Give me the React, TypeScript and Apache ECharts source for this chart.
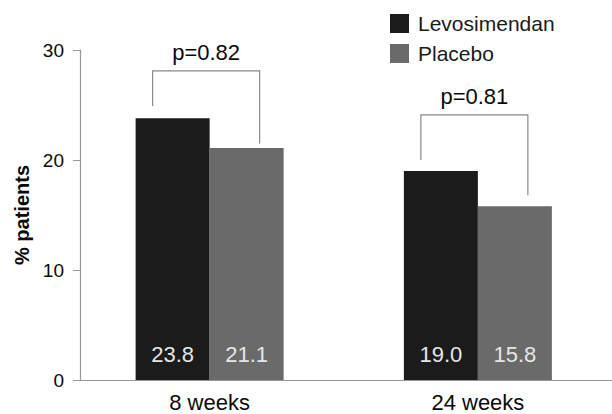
import React, { useEffect, useRef } from "react";
import * as echarts from "echarts";

const categories = ["8 weeks", "24 weeks"];
const levosimendan = [23.8, 19.0];
const placebo = [21.1, 15.8];
const pLabels = ["p=0.82", "p=0.81"];
const bracketTop = [28.1, 24.1];
const bracketLeftEnd = [24.9, 20.0];
const bracketRightEnd = [21.5, 16.8];

const FONT = "'Liberation Sans', Arial, sans-serif";

export default function App() {
  const ref = useRef<HTMLDivElement>(null);
  useEffect(() => {
    if (!ref.current) return;
    const chart = echarts.init(ref.current, null, { renderer: "svg" });
    const bracketData = categories.map((_, i) => [i, bracketTop[i], bracketLeftEnd[i], bracketRightEnd[i]]);
    chart.setOption({
      animation: false,
      textStyle: { fontFamily: FONT },
      grid: { left: 75.5, right: -1.5, top: 50, bottom: 34, containLabel: false },
      legend: {
        data: ["Levosimendan", "Placebo"],
        orient: "vertical",
        left: 385,
        top: 8,
        itemWidth: 19,
        itemHeight: 19,
        itemGap: 9,
        icon: "rect",
        textStyle: { fontSize: 21, color: "#1a1a1a", fontFamily: FONT, padding: [0, 0, 0, 4] },
      },
      xAxis: {
        type: "category",
        data: categories,
        axisLine: { lineStyle: { color: "#999", width: 1.2 } },
        axisTick: { show: false },
        axisLabel: { fontSize: 22, color: "#0a0a0a", margin: 11, fontFamily: FONT },
      },
      yAxis: {
        type: "value",
        min: 0,
        max: 30,
        interval: 10,
        offset: -4.5,
        name: "% patients",
        nameLocation: "middle",
        nameGap: 41,
        nameTextStyle: { fontSize: 20, fontWeight: "bold", color: "#0a0a0a", fontFamily: FONT },
        axisLine: { show: true, lineStyle: { color: "#999", width: 1.2 } },
        axisTick: { show: true, length: 7, lineStyle: { color: "#999" } },
        axisLabel: { fontSize: 19, color: "#0a0a0a", margin: 16, fontFamily: FONT },
        splitLine: { show: false },
      },
      series: [
        {
          name: "Levosimendan",
          type: "bar",
          data: levosimendan,
          barWidth: 74,
          barGap: "0%",
          itemStyle: { color: "#1b1b1b" },
          label: {
            show: true,
            position: "insideBottom",
            distance: 15,
            formatter: (p: any) => p.value.toFixed(1),
            color: "#e6e6e6",
            fontSize: 22,
            fontFamily: FONT,
          },
        },
        {
          name: "Placebo",
          type: "bar",
          data: placebo,
          barWidth: 74,
          barGap: "0%",
          itemStyle: { color: "#6a6a6a" },
          label: {
            show: true,
            position: "insideBottom",
            distance: 15,
            formatter: (p: any) => p.value.toFixed(1),
            color: "#e6e6e6",
            fontSize: 22,
            fontFamily: FONT,
          },
        },
        {
          name: "brackets",
          type: "custom",
          silent: true,
          data: bracketData,
          renderItem: (params: any, api: any) => {
            const idx = api.value(0);
            const top = api.coord([idx, api.value(1)]);
            const l = api.coord([idx, api.value(2)]);
            const r = api.coord([idx, api.value(3)]);
            const cx = top[0];
            const lx = cx - 57;
            const rx = cx + 50;
            return {
              type: "group",
              children: [
                {
                  type: "polyline",
                  shape: { points: [[lx, l[1]], [lx, top[1]], [rx, top[1]], [rx, r[1]]] },
                  style: { stroke: "#8a8a8a", lineWidth: 1.2, fill: "none" },
                },
                {
                  type: "text",
                  style: {
                    text: pLabels[params.dataIndex],
                    x: (lx + rx) / 2,
                    y: top[1] - 7,
                    textAlign: "center",
                    textVerticalAlign: "bottom",
                    fontSize: 22,
                    fontFamily: FONT,
                    fill: "#0a0a0a",
                  },
                },
              ],
            };
          },
        },
      ],
    });
    return () => chart.dispose();
  }, []);
  return <div ref={ref} style={{ width: 612, height: 414, position: "absolute", left: 0, top: 0 }} />;
}
